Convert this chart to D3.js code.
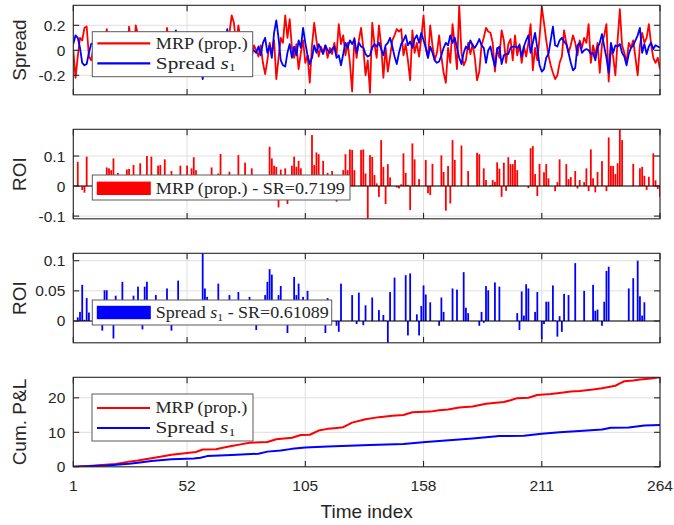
<!DOCTYPE html>
<html>
<head>
<meta charset="utf-8">
<script src="https://cdn.jsdelivr.net/npm/d3@7"></script>
<style>
  body { margin: 0; background: #fff; }
  text { fill: #262626; }
</style>
</head>
<body>
<svg id="chart" width="674" height="525"></svg>
<script>
// ---- data ----
const xTicks = [1, 52, 105, 158, 211, 264];

const spreadMrp = [
  0.00, -0.22, -0.05, 0.10, 0.08, 0.18, 0.19, -0.05, -0.08, 0.02, -0.04, 0.05,
  -0.06, 0.10, 0.03, 0.17, -0.02, 0.06, -0.10, 0.04, 0.08, -0.05, 0.02, 0.10,
  -0.08, 0.19, 0.05, -0.06, 0.20, 0.12, -0.03, 0.06, -0.12, 0.03, 0.09, -0.05,
  0.02, 0.11, -0.08, 0.06, 0.01, -0.10, 0.18, 0.04, -0.06, 0.08, -0.02, 0.05,
  -0.12, 0.07, 0.02, -0.08, 0.10, -0.03, 0.06, -0.10, 0.04, 0.12, -0.06, 0.03,
  -0.09, 0.08, 0.00, -0.04, 0.11, -0.07, 0.05, 0.01, -0.10, 0.06, 0.14, 0.28,
  0.22, 0.05, 0.20, 0.08, -0.10, 0.06, -0.02, 0.10, -0.05, 0.04, 0.00, -0.05,
  0.04, -0.10, -0.19, -0.08, 0.06, -0.02, 0.08, -0.23, -0.06, 0.10, 0.06, 0.28,
  0.10, 0.25, 0.02, -0.06, 0.05, -0.15, -0.02, 0.08, -0.10, -0.04, -0.26, 0.04,
  0.22, 0.08, -0.05, 0.03, -0.02, 0.04, -0.06, 0.02, -0.03, 0.06, -0.04, 0.21,
  0.05, 0.12, -0.04, 0.06, -0.10, -0.33, 0.10, -0.06, 0.08, 0.18, 0.02, -0.20,
  -0.08, -0.34, 0.22, 0.05, -0.06, 0.20, 0.04, -0.22, 0.02, -0.17, -0.05, 0.08,
  0.12, 0.17, 0.15, 0.17, -0.04, 0.05, -0.08, -0.24, 0.16, -0.02, 0.06, -0.05,
  0.10, 0.28, 0.02, -0.06, 0.20, 0.04, -0.08, -0.02, 0.12, -0.05, -0.18, -0.26,
  0.02, -0.10, 0.21, 0.04, -0.15, 0.36, -0.02, -0.12, -0.08, 0.06, -0.03, 0.05,
  -0.06, -0.24, -0.17, 0.04, 0.10, 0.18, 0.15, 0.14, 0.06, -0.17, 0.02, -0.06,
  0.16, 0.08, -0.10, 0.05, 0.09, -0.08, 0.12, -0.04, 0.05, -0.10, 0.03, -0.05,
  0.06, 0.21, -0.16, 0.02, -0.08, 0.10, 0.35, 0.22, 0.08, -0.04, -0.12, -0.18,
  -0.23, -0.20, -0.10, -0.05, 0.16, 0.06, -0.02, 0.04, 0.12, 0.06, -0.04, 0.08,
  0.02, 0.10, 0.06, 0.21, -0.10, 0.04, -0.04, 0.06, -0.18, 0.05, 0.12, 0.21,
  -0.25, 0.02, -0.05, -0.20, 0.08, 0.33, 0.04, -0.02, -0.10, 0.06, 0.02, 0.08,
  -0.06, -0.20, 0.04, 0.14, 0.06, 0.10, 0.21, 0.05, -0.06, -0.10, -0.06, -0.15
];

const spreadS1 = [
  0.05, 0.12, 0.10, 0.02, -0.10, -0.12, -0.11, -0.02, 0.05, 0.06, -0.05, 0.04,
  0.08, -0.03, 0.02, -0.06, 0.05, 0.01, -0.04, 0.06, -0.02, 0.03, -0.07, 0.05,
  0.00, -0.04, 0.07, 0.02, -0.05, 0.04, -0.01, 0.06, -0.08, 0.03, 0.05, -0.03,
  0.02, -0.06, 0.04, 0.08, -0.02, 0.03, -0.05, 0.06, 0.00, 0.10, 0.16, 0.04,
  -0.06, 0.02, 0.06, -0.04, 0.03, -0.08, 0.05, -0.02, 0.02, -0.10, -0.23, -0.04,
  0.05, 0.00, -0.06, 0.04, 0.02, -0.03, 0.07, 0.03, -0.02, 0.17, 0.05, -0.05,
  0.03, 0.06, -0.04, 0.02, 0.05, -0.06, 0.01, 0.04, 0.00, 0.00, -0.02, 0.03,
  -0.04, 0.06, 0.10, -0.02, 0.04, -0.06, 0.14, 0.24, 0.10, -0.08, -0.12, -0.13,
  -0.02, 0.05, -0.06, 0.03, -0.04, 0.08, 0.02, 0.18, 0.06, -0.04, -0.11, -0.06,
  0.04, -0.02, 0.05, 0.01, -0.03, 0.04, 0.00, -0.02, 0.01, 0.03, -0.06, -0.04,
  -0.12, -0.03, 0.06, 0.02, 0.08, 0.05, 0.09, -0.02, 0.06, 0.03, 0.02, -0.03,
  -0.05, -0.04, 0.02, 0.05, 0.03, 0.06, 0.01, -0.04, 0.04, 0.06, 0.10, 0.03,
  -0.05, -0.11, -0.02, 0.05, 0.08, 0.12, 0.04, 0.07, 0.02, 0.09, 0.12, 0.06,
  0.14, 0.08, 0.02, -0.06, 0.03, -0.02, -0.08, -0.10, -0.09, -0.04, 0.02, 0.06,
  0.04, 0.12, 0.06, 0.10, 0.02, -0.06, -0.11, -0.02, 0.03, 0.01, 0.08, 0.04,
  0.02, 0.05, 0.09, 0.04, 0.02, -0.10, 0.00, 0.03, -0.06, -0.13, 0.01, 0.03,
  -0.11, -0.04, -0.03, -0.03, 0.02, 0.03, 0.03, 0.02, 0.04, -0.05, 0.03, 0.08,
  0.12, -0.02, 0.06, 0.14, 0.02, -0.12, -0.17, -0.15, -0.06, -0.03, 0.08, 0.19,
  0.04, 0.03, 0.08, 0.10, 0.07, 0.05, -0.02, -0.10, -0.16, -0.14, 0.04, 0.06,
  -0.02, 0.00, 0.01, 0.00, -0.03, -0.02, -0.08, 0.02, 0.06, 0.13, 0.03, -0.06,
  -0.18, 0.06, -0.02, 0.04, 0.03, 0.05, -0.02, -0.05, -0.12, -0.03, 0.02, 0.04,
  0.08, 0.12, 0.18, -0.02, 0.05, -0.03, 0.03, 0.06, 0.01, 0.04, 0.03, 0.02
];

// [time index, ROI] for the non-zero bars
const roiMrp = [
  [3, 0.081], [5, -0.013], [6, -0.022], [7, 0.098], [16, 0.062], [17, 0.059], [18, 0.053],
  [19, 0.092], [21, 0.044], [25, 0.055], [26, 0.057], [28, 0.07], [31, 0.076], [34, 0.1],
  [36, 0.098], [39, 0.068], [40, 0.07], [42, 0.089], [45, 0.05], [49, 0.068], [52, 0.068],
  [54, 0.059], [55, 0.096], [56, 0.053], [63, 0.062], [66, 0.042], [67, 0.107], [71, 0.048],
  [75, 0.103], [78, 0.078], [81, 0.059], [86, 0.031], [89, 0.131], [90, 0.092], [91, 0.068],
  [92, 0.064], [93, -0.071], [94, 0.055], [96, 0.059], [97, -0.06], [99, 0.068], [100, 0.098],
  [101, 0.064], [102, 0.084], [103, 0.059], [108, 0.17], [109, 0.07], [110, 0.112], [111, 0.106],
  [113, 0.084], [115, 0.044], [117, 0.05], [119, -0.052], [122, 0.053], [123, 0.106], [124, 0.053],
  [125, 0.122], [126, 0.12], [127, 0.053], [130, 0.12], [131, 0.122], [132, 0.042], [133, -0.108],
  [134, 0.103], [135, 0.097], [136, 0.037], [137, 0.009], [138, -0.036], [139, 0.153], [140, 0.064],
  [141, -0.06], [142, 0.073], [143, 0.029], [146, -0.005], [147, -0.008], [148, 0.006], [149, 0.109],
  [150, 0.044], [151, 0.004], [152, -0.08], [153, 0.142], [154, 0.089], [155, 0.003], [156, 0.023],
  [159, 0.087], [160, -0.024], [161, -0.03], [162, 0.074], [166, 0.102], [167, 0.047], [168, -0.082],
  [169, 0.067], [170, -0.058], [171, 0.153], [172, 0.087], [175, 0.135], [178, 0.05], [182, 0.111],
  [183, 0.106], [185, 0.059], [186, 0.02], [188, 0.003], [189, 0.02], [190, 0.014], [191, 0.079],
  [192, 0.058], [193, -0.036], [194, 0.078], [195, -0.016], [196, 0.096], [197, 0.073], [198, 0.073],
  [199, 0.087], [200, 0.053], [205, -0.007], [206, 0.126], [207, 0.133], [208, 0.04], [209, -0.033],
  [210, 0.074], [212, 0.046], [213, 0.073], [214, 0.026], [217, -0.017], [218, 0.013], [219, 0.089],
  [222, 0.073], [223, 0.023], [224, 0.03], [226, 0.05], [227, -0.008], [228, 0.02], [230, 0.013],
  [231, 0.059], [232, -0.017], [233, 0.122], [234, 0.026], [235, -0.021], [236, 0.047], [238, 0.083],
  [240, -0.017], [241, 0.162], [242, 0.067], [243, 0.067], [244, 0.04], [245, 0.076], [246, 0.189],
  [247, 0.153], [252, 0.074], [255, 0.059], [256, 0.064], [257, 0.034], [258, -0.013], [259, 0.031],
  [261, 0.109], [262, 0.019], [263, -0.01], [264, -0.036]
];

const roiS1 = [
  [3, 0.006], [4, 0.015], [5, 0.06], [6, 0.002], [7, 0.038], [8, 0.014], [14, -0.016], [15, 0.051],
  [16, 0.051], [19, -0.029], [20, 0.042], [23, 0.065], [28, 0.042], [30, 0.057], [32, -0.014],
  [33, 0.057], [34, 0.065], [38, 0.043], [43, 0.054], [45, -0.016], [48, 0.067], [59, 0.113],
  [60, 0.054], [61, 0.04], [66, 0.062], [71, 0.043], [75, 0.048], [80, 0.04], [83, -0.015],
  [87, 0.043], [88, 0.065], [89, 0.086], [90, 0.077], [93, 0.043], [94, 0.058], [97, -0.02],
  [100, 0.073], [101, 0.043], [102, 0.062], [104, 0.04], [106, 0.05], [114, -0.02], [115, 0.038],
  [119, -0.008], [120, -0.018], [121, 0.062], [126, 0.043], [128, -0.005], [129, 0.047], [131, -0.007],
  [132, 0.026], [135, 0.039], [138, 0.018], [140, 0.01], [141, 0.001], [142, -0.037], [143, 0.048],
  [145, 0.072], [150, 0.076], [151, -0.024], [152, 0.079], [155, 0.011], [156, -0.024], [157, 0.025],
  [158, 0.059], [159, 0.044], [161, 0.031], [165, -0.008], [166, 0.039], [167, 0.015], [171, 0.054],
  [173, 0.052], [176, 0.081], [177, 0.022], [178, 0.013], [183, -0.008], [184, 0.015], [185, -0.003],
  [186, 0.058], [187, 0.051], [190, 0.064], [192, 0.057], [200, 0.013], [201, -0.015], [202, 0.049],
  [203, 0.009], [204, 0.061], [205, 0.054], [208, 0.015], [209, 0.048], [211, -0.03], [212, -0.005],
  [213, 0.032], [214, 0.032], [216, 0.059], [217, 0.001], [218, -0.026], [219, 0.008], [220, -0.018],
  [221, 0.045], [223, 0.043], [226, 0.096], [230, 0.05], [234, 0.06], [235, 0.017], [236, 0.019],
  [238, -0.008], [239, 0.032], [240, 0.083], [241, 0.09], [250, 0.054], [252, 0.071], [254, 0.1],
  [255, 0.041], [256, 0.009], [257, 0.031]
];

// [time index, cumulative P&L]
const pnlMrp = [
  [1, 0], [8, 0.2], [14, 0.5], [20, 0.8], [26, 1.5], [30, 1.8], [36, 2.5], [40, 2.9], [45, 3.5],
  [52, 4.0], [56, 4.3], [59, 5.0], [65, 5.1], [68, 5.5], [72, 6.0], [76, 6.5], [80, 7.0], [88, 7.2],
  [92, 8.0], [99, 8.4], [103, 9.2], [107, 9.3], [111, 10.5], [115, 11.0], [118, 11.2], [122, 11.5],
  [126, 12.8], [132, 13.8], [138, 14.4], [144, 14.8], [149, 15.0], [153, 15.8], [161, 16.0],
  [165, 16.4], [169, 16.6], [174, 17.2], [180, 17.5], [186, 18.3], [194, 18.8], [197, 19.3],
  [200, 19.9], [205, 20.0], [209, 20.8], [215, 21.1], [219, 21.4], [224, 21.8], [228, 22.0],
  [234, 22.4], [238, 22.8], [244, 23.5], [246, 24.2], [248, 24.8], [252, 25.0], [255, 25.3],
  [260, 25.6], [264, 25.95]
];

const pnlS1 = [
  [1, 0], [10, 0.2], [16, 0.4], [26, 0.9], [30, 1.2], [36, 1.7], [45, 2.2], [55, 2.4], [58, 2.6],
  [61, 3.1], [72, 3.4], [84, 3.8], [88, 4.4], [94, 4.7], [99, 5.2], [105, 5.6], [115, 5.9],
  [134, 6.3], [149, 6.6], [159, 7.2], [171, 7.8], [180, 8.2], [192, 8.9], [203, 9.0], [211, 9.6],
  [219, 10.0], [228, 10.4], [238, 10.8], [242, 11.3], [250, 11.4], [257, 12.0], [264, 12.1]
];

// ---- layout ----
const plotLeft = 73.3, plotRight = 660, panelH = 89.5;
const panelTops = [5.3, 129.3, 253.3, 377.3];
const axisColor = '#262626', gridColor = '#dfdfdf';
const RED = '#ff0000', BLUE = '#0000ff';
const sansFont = "'Liberation Sans', Arial, sans-serif";
const serifFont = "'Liberation Serif', 'Times New Roman', serif";

const svg = d3.select('#chart');
const x = d3.scaleLinear().domain([1, 264]).range([plotLeft, plotRight]);

function makePanel(i, domain, yTicks, yLabel) {
  const top = panelTops[i], bottom = top + panelH;
  const y = d3.scaleLinear().domain(domain).range([bottom, top]);
  const g = svg.append('g');

  svg.append('clipPath').attr('id', 'clip' + i)
    .append('rect')
    .attr('x', plotLeft).attr('y', top)
    .attr('width', plotRight - plotLeft).attr('height', panelH);

  // grid
  g.selectAll('.gx').data(xTicks).enter().append('line')
    .attr('x1', d => x(d)).attr('x2', d => x(d))
    .attr('y1', top).attr('y2', bottom)
    .attr('stroke', gridColor).attr('stroke-width', 1);
  g.selectAll('.gy').data(yTicks).enter().append('line')
    .attr('x1', plotLeft).attr('x2', plotRight)
    .attr('y1', d => y(d)).attr('y2', d => y(d))
    .attr('stroke', gridColor).attr('stroke-width', 1);

  const plot = g.append('g').attr('clip-path', `url(#clip${i})`);

  // y tick labels
  g.selectAll('.yl').data(yTicks).enter().append('text')
    .attr('x', plotLeft - 8).attr('y', d => y(d))
    .attr('text-anchor', 'end').attr('dominant-baseline', 'central')
    .style('font-family', sansFont).style('font-size', '15.5px')
    .text(d => String(d));

  g.append('text')
    .attr('transform', `translate(25.5,${(top + bottom) / 2}) rotate(-90)`)
    .attr('text-anchor', 'middle')
    .style('font-family', sansFont).style('font-size', '19px')
    .text(yLabel);

  function frame() {
    const tl = 5.9;
    const f = svg.append('g').attr('stroke', axisColor).attr('stroke-width', 1.1);
    yTicks.forEach(t => {
      f.append('line').attr('x1', plotLeft).attr('x2', plotLeft + tl).attr('y1', y(t)).attr('y2', y(t));
      f.append('line').attr('x1', plotRight - tl).attr('x2', plotRight).attr('y1', y(t)).attr('y2', y(t));
    });
    xTicks.forEach(t => {
      f.append('line').attr('x1', x(t)).attr('x2', x(t)).attr('y1', bottom).attr('y2', bottom - tl);
      f.append('line').attr('x1', x(t)).attr('x2', x(t)).attr('y1', top).attr('y2', top + tl);
    });
    f.append('rect')
      .attr('x', plotLeft).attr('y', top)
      .attr('width', plotRight - plotLeft).attr('height', panelH)
      .attr('fill', 'none');
  }

  return { g, plot, y, top, bottom, frame };
}

function drawLine(panel, values, color, width) {
  const line = d3.line().x(d => x(d[0])).y(d => panel.y(d[1]));
  panel.plot.append('path')
    .datum(values)
    .attr('d', line)
    .attr('fill', 'none')
    .attr('stroke', color)
    .attr('stroke-width', width)
    .attr('stroke-linejoin', 'round');
}

function drawBars(panel, pairs, color) {
  const bw = 0.8 * (x(2) - x(1));
  panel.plot.selectAll('.bar').data(pairs).enter().append('rect')
    .attr('x', d => x(d[0]) - bw / 2)
    .attr('y', d => panel.y(Math.max(0, d[1])))
    .attr('width', bw)
    .attr('height', d => Math.abs(panel.y(d[1]) - panel.y(0)))
    .attr('fill', color);
  // bar baseline
  panel.g.append('line')
    .attr('x1', plotLeft).attr('x2', plotRight)
    .attr('y1', panel.y(0)).attr('y2', panel.y(0))
    .attr('stroke', '#000').attr('stroke-width', 1.1);
}

// legend entry text: parts = [{t, italic, sub}], squeezed to a target width
function legendText(g, x0, yBase, parts, width) {
  const t = g.append('text')
    .style('font-family', serifFont).style('font-size', '16px');
  parts.forEach(p => {
    const ts = t.append('tspan').text(p.t);
    if (p.italic) ts.style('font-style', 'italic');
    if (p.sub) ts.attr('baseline-shift', '-2.5').style('font-size', '10.5px');
  });
  const w = t.node().getComputedTextLength();
  t.attr('transform', `translate(${x0},${yBase}) scale(${width / w},1)`);
}

function legend(box, items) {
  const g = svg.append('g');
  g.append('rect')
    .attr('x', box.x).attr('y', box.y).attr('width', box.w).attr('height', box.h)
    .attr('fill', '#fff').attr('stroke', '#5a5a5a').attr('stroke-width', 1);
  items.forEach(it => {
    if (it.kind === 'line') {
      g.append('line')
        .attr('x1', box.x + 5).attr('x2', box.x + 58)
        .attr('y1', it.y).attr('y2', it.y)
        .attr('stroke', it.color).attr('stroke-width', 2.2);
    } else {
      g.append('rect')
        .attr('x', box.x + 4.5).attr('y', it.y - 6.7)
        .attr('width', 54).attr('height', 13.4)
        .attr('fill', it.color);
    }
    legendText(g, box.x + 63.5, it.y + 5.3, it.parts, it.width);
  });
}

const mrpParts = [{ t: 'MRP (prop.)' }];
const s1Parts = [{ t: 'Spread ' }, { t: 's', italic: true }, { t: '1', sub: true }];

// ---- panel 1: spreads ----
const p1 = makePanel(0, [-0.356, 0.36], [-0.2, 0, 0.2], 'Spread');
drawLine(p1, spreadMrp.map((v, i) => [i + 1, v]), RED, 1.8);
drawLine(p1, spreadS1.map((v, i) => [i + 1, v]), BLUE, 1.8);
p1.frame();
legend({ x: 92.3, y: 31.7, w: 160.4, h: 45 }, [
  { kind: 'line', color: RED, y: 43.3, parts: mrpParts, width: 92 },
  { kind: 'line', color: BLUE, y: 63.3, parts: s1Parts, width: 80 }
]);

// ---- panel 2: ROI of MRP ----
const p2 = makePanel(1, [-0.109, 0.189], [-0.1, 0, 0.1], 'ROI');
drawBars(p2, roiMrp, RED);
p2.frame();
legend({ x: 92.3, y: 175, w: 257.7, h: 25 }, [
  { kind: 'rect', color: RED, y: 188.3, parts: [{ t: 'MRP (prop.) - SR=0.7199' }], width: 189 }
]);

// ---- panel 3: ROI of spread s1 ----
const p3 = makePanel(2, [-0.0362, 0.1123], [0, 0.05, 0.1], 'ROI');
drawBars(p3, roiS1, BLUE);
p3.frame();
legend({ x: 92.3, y: 300, w: 239.4, h: 25 }, [
  { kind: 'rect', color: BLUE, y: 312.5,
    parts: [{ t: 'Spread ' }, { t: 's', italic: true }, { t: '1', sub: true }, { t: ' - SR=0.61089' }], width: 173 }
]);

// ---- panel 4: cumulative P&L ----
const p4 = makePanel(3, [0, 25.95], [0, 10, 20], 'Cum. P&L');
drawLine(p4, pnlMrp, RED, 2);
drawLine(p4, pnlS1, BLUE, 2);
p4.frame();
legend({ x: 92, y: 394, w: 161, h: 47 }, [
  { kind: 'line', color: RED, y: 408, parts: mrpParts, width: 92 },
  { kind: 'line', color: BLUE, y: 428, parts: s1Parts, width: 80 }
]);

// x tick labels + title on the bottom panel
svg.selectAll('.xl').data(xTicks).enter().append('text')
  .attr('x', d => x(d)).attr('y', p4.bottom + 24)
  .attr('text-anchor', 'middle')
  .style('font-family', sansFont).style('font-size', '15.5px')
  .text(d => d);

svg.append('text')
  .attr('x', (plotLeft + plotRight) / 2).attr('y', 518)
  .attr('text-anchor', 'middle')
  .style('font-family', sansFont).style('font-size', '19px')
  .text('Time index');
</script>
</body>
</html>
